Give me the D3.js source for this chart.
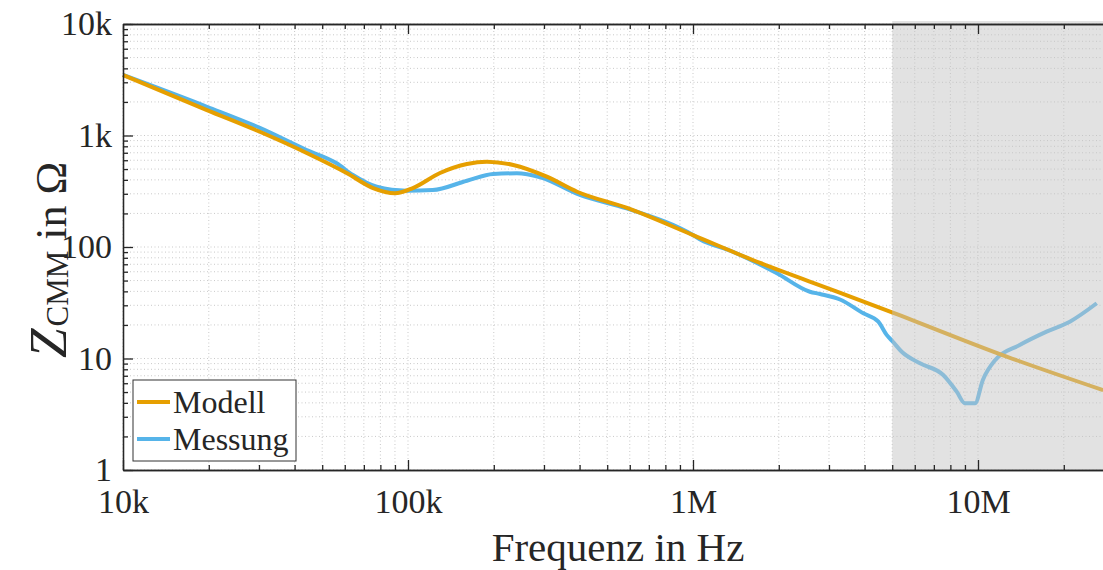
<!DOCTYPE html>
<html>
<head>
<meta charset="utf-8">
<script src="https://cdn.jsdelivr.net/npm/d3@7"></script>
<style>
	body { margin: 0; background: #fff; }
	text { font-family: "Times New Roman", Times, "Liberation Serif", "DejaVu Serif", serif; fill: #262626; }
</style>
</head>
<body>
<svg id="chart" width="1103" height="570"></svg>
<script>
// frequency in Hz, impedance in Ohm
var freqModell = [1e4, 19.7e3, 30.2e3, 44.1e3, 60.9e3, 75.4e3, 90e3, 104e3, 129.5e3, 161e3, 189e3, 234e3, 307e3, 392e3, 587e3, 1e6, 1.72e6, 3.2e6, 5.02e6, 12.6e6, 27.5e6];
var zModell = [3490, 1690, 1080, 697, 461, 338, 303, 338, 461, 555, 582, 544, 427, 313, 224, 128, 71.9, 39.8, 25.8, 10.4, 5.2];

var freqMessung = [1e4, 19.7e3, 30.2e3, 44.1e3, 56.2e3, 64.1e3, 77.7e3, 99e3, 122e3, 161e3, 199e3, 241e3, 291e3, 401e3, 585e3, 1e6, 1.06e6, 1.38e6, 1.97e6, 2.57e6, 2.79e6, 3.28e6, 3.96e6, 4.47e6, 4.78e6, 5.02e6, 5.4e6, 6.26e6, 7.55e6, 8.42e6, 9.0e6, 9.76e6, 10.4e6, 11.5e6, 14.0e6, 17.4e6, 21.0e6, 26.1e6];
var zMessung = [3490, 1810, 1170, 741, 563, 442, 347, 320, 324, 393, 452, 458, 422, 293, 222, 128, 117, 90.7, 58.1, 39.7, 37.9, 33.8, 25.4, 21.4, 16.3, 14.2, 11.5, 9.06, 7.11, 5.04, 3.96, 3.96, 6.42, 9.7, 13.2, 17.4, 21.4, 31.3];

var seriesNames = ["Modell", "Messung"];
var seriesColors = ["#E69F00", "#56B4E9"];

var xTicks = [1e4, 1e5, 1e6, 1e7];
var xTickLabels = ["10k", "100k", "1M", "10M"];
var yTicks = [1, 10, 100, 1000, 10000];
var yTickLabels = ["1", "10", "100", "1k", "10k"];

var shadeStart = 5e6; // grey band, measurement not valid

var svg = d3.select("#chart"),
	margin = {top: 24, left: 123},
	plotBottom = 470;

var x = d3.scaleLog()
	.domain([1e4, 3e7])
	.range([margin.left, margin.left + 285 * Math.log10(3000)]);
var y = d3.scaleLog()
	.domain([1, 1e4])
	.range([plotBottom, margin.top]);

var right = x.range()[1];

// minor tick positions 2..9 per decade
var xMinor = [], yMinor = [];
for (var d = 1e4; d < 3e7; d *= 10) {
	for (var k = 2; k <= 9; k++) if (d * k <= 3e7) xMinor.push(d * k);
}
for (var d = 1; d < 1e4; d *= 10) {
	for (var k = 2; k <= 9; k++) yMinor.push(d * k);
}

// grid
var grid = svg.append("g")
	.attr("stroke", "#c9c9c9")
	.attr("stroke-width", 1)
	.attr("stroke-dasharray", "1,2.5");
grid.selectAll("line.gx")
	.data(xTicks.concat(xMinor))
	.enter().append("line")
	.attr("x1", function(d) { return x(d); })
	.attr("x2", function(d) { return x(d); })
	.attr("y1", margin.top)
	.attr("y2", plotBottom);
grid.selectAll("line.gy")
	.data(yTicks.concat(yMinor))
	.enter().append("line")
	.attr("x1", margin.left)
	.attr("x2", right)
	.attr("y1", function(d) { return y(d); })
	.attr("y2", function(d) { return y(d); });

// curves
var line = d3.line()
	.x(function(d) { return x(d[0]); })
	.y(function(d) { return y(d[1]); })
	.curve(d3.curveMonotoneX);

var modell = d3.zip(freqModell, zModell);
var messung = d3.zip(freqMessung, zMessung);

svg.append("path")
	.datum(messung)
	.attr("fill", "none")
	.attr("stroke", seriesColors[1])
	.attr("stroke-width", 4)
	.attr("stroke-linejoin", "round")
	.attr("d", line);

svg.append("path")
	.datum(modell)
	.attr("fill", "none")
	.attr("stroke", seriesColors[0])
	.attr("stroke-width", 4)
	.attr("stroke-linejoin", "round")
	.attr("d", line);

// shaded band on top, semi transparent
svg.append("rect")
	.attr("x", x(shadeStart))
	.attr("y", margin.top - 3)
	.attr("width", 1103 - x(shadeStart) + 20)
	.attr("height", plotBottom - margin.top + 3)
	.attr("fill", "#c4c4c4")
	.attr("fill-opacity", 0.49);

// axes
function styleAxis(g) {
	g.selectAll("path.domain").attr("stroke", "#262626").attr("stroke-width", 1.3);
	g.selectAll(".tick line").attr("stroke", "#262626").attr("stroke-width", 1.3);
	g.selectAll("text").attr("font-size", 34).attr("fill", "#262626");
}

svg.append("g")
	.attr("transform", "translate(0," + plotBottom + ")")
	.call(d3.axisBottom(x).tickValues(xMinor).tickSize(-5).tickSizeOuter(0).tickFormat(""))
	.call(styleAxis);
svg.append("g")
	.attr("transform", "translate(0," + plotBottom + ")")
	.call(d3.axisBottom(x).tickValues(xTicks).tickSize(-10).tickSizeOuter(0).tickPadding(19)
		.tickFormat(function(d, i) { return xTickLabels[i]; }))
	.call(styleAxis);

svg.append("g")
	.attr("transform", "translate(0," + margin.top + ")")
	.call(d3.axisTop(x).tickValues(xMinor).tickSize(-5).tickSizeOuter(0).tickFormat(""))
	.call(styleAxis);
svg.append("g")
	.attr("transform", "translate(0," + margin.top + ")")
	.call(d3.axisTop(x).tickValues(xTicks).tickSize(-10).tickSizeOuter(0).tickFormat(""))
	.call(styleAxis);

svg.append("g")
	.attr("transform", "translate(" + margin.left + ",0)")
	.call(d3.axisLeft(y).tickValues(yMinor).tickSize(-5).tickSizeOuter(0).tickFormat(""))
	.call(styleAxis);
svg.append("g")
	.attr("transform", "translate(" + margin.left + ",0)")
	.call(d3.axisLeft(y).tickValues(yTicks).tickSize(-10).tickSizeOuter(0).tickPadding(11)
		.tickFormat(function(d, i) { return yTickLabels[i]; }))
	.call(styleAxis);

// axis titles
svg.append("text")
	.attr("x", 618)
	.attr("y", 561)
	.attr("text-anchor", "middle")
	.attr("font-size", 41)
	.text("Frequenz in Hz");

var ylab = svg.append("text")
	.attr("transform", "translate(66,358) rotate(-90)")
	.attr("text-anchor", "start")
	.attr("font-size", 44);
ylab.append("tspan").attr("font-style", "italic").attr("font-size", 53).text("Z");
ylab.append("tspan").attr("font-size", 31).attr("dy", 2).attr("dx", 2).text("CMM");
ylab.append("tspan").attr("dy", -2).text(" in Ω");

// legend
var legend = svg.append("g");
legend.append("rect")
	.attr("x", 133).attr("y", 380)
	.attr("width", 163).attr("height", 81)
	.attr("fill", "#fff")
	.attr("stroke", "#333")
	.attr("stroke-width", 1);

var item = legend.selectAll("g.item")
	.data(seriesNames)
	.enter().append("g")
	.attr("class", "item")
	.attr("transform", function(d, i) { return "translate(0," + (402 + i * 37) + ")"; });
item.append("line")
	.attr("x1", 137).attr("x2", 170)
	.attr("stroke", function(d, i) { return seriesColors[i]; })
	.attr("stroke-width", 4);
item.append("text")
	.attr("x", 173)
	.attr("y", 11)
	.attr("font-size", 32)
	.text(function(d) { return d; });
</script>
</body>
</html>
